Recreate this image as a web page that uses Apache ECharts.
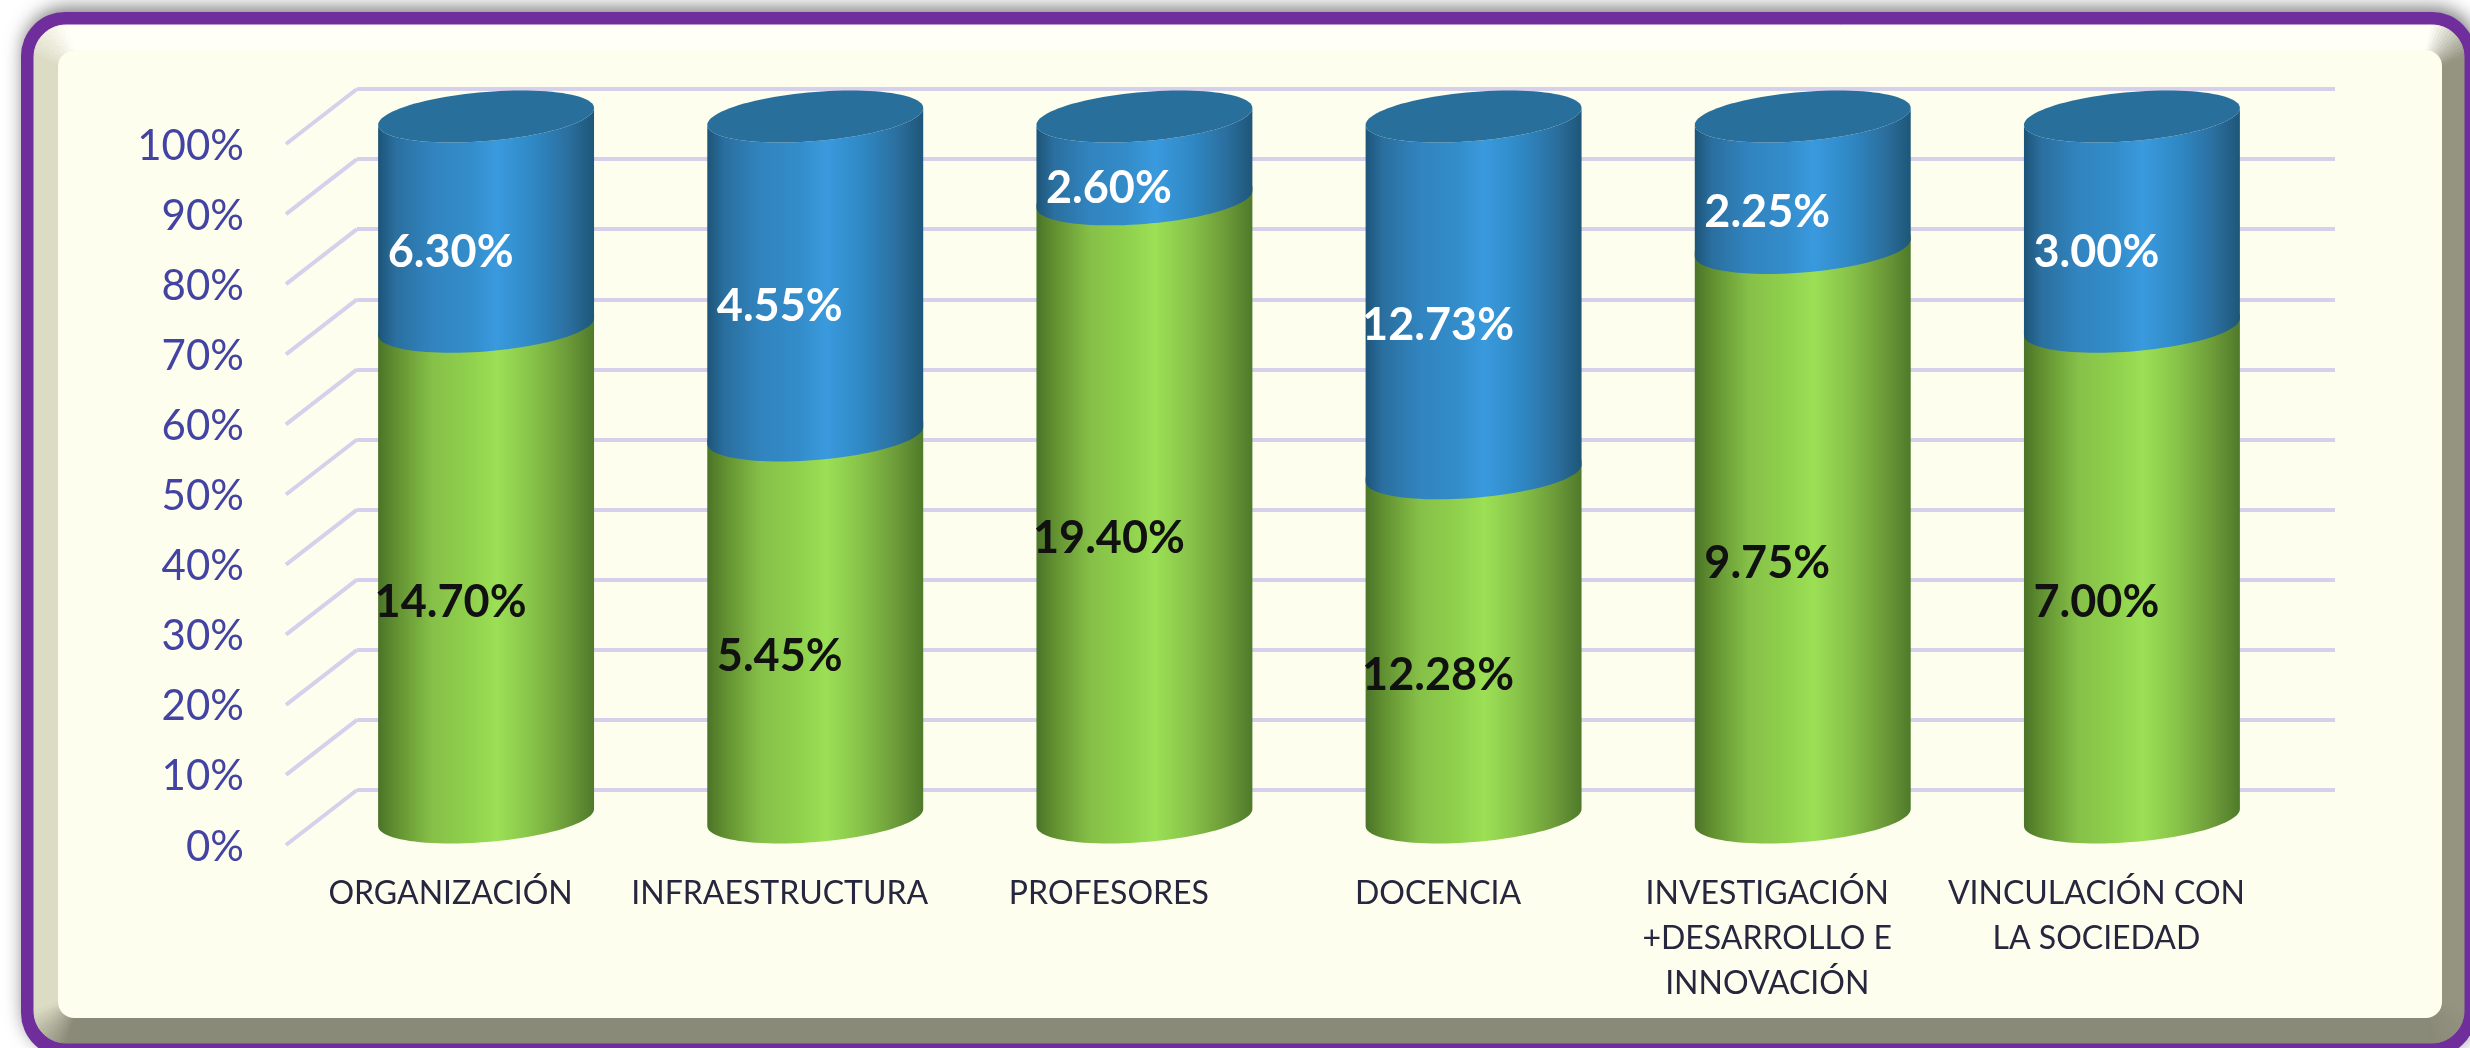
<!DOCTYPE html>
<html><head><meta charset="utf-8">
<style>html,body{margin:0;padding:0;background:#fff}#c{width:2470px;height:1048px}</style>
<script src="https://cdn.jsdelivr.net/npm/echarts@6/dist/echarts.min.js"></script>
</head><body><div id="c"></div>
<script>
const categories = ['ORGANIZACIÓN','INFRAESTRUCTURA','PROFESORES','DOCENCIA','INVESTIGACIÓN\n+DESARROLLO E\nINNOVACIÓN','VINCULACIÓN CON\nLA SOCIEDAD'];
const greenValues = [14.70,5.45,19.40,12.28,9.75,7.00];
const blueValues = [6.30,4.55,2.60,12.73,2.25,3.00];
const yTicks = [0,10,20,30,40,50,60,70,80,90,100];

const FONT='Lato';
const DX=71, DY=-55;
const GREEN=[[0,'#4b7428'],[0.08,'#618f30'],[0.25,'#86c048'],[0.42,'#8fd04c'],[0.55,'#9ce056'],[0.72,'#86c148'],[0.88,'#6c9a38'],[1,'#4f7a2a']];
const BLUE=[[0,'#1d5478'],[0.08,'#2a6f9f'],[0.25,'#3184bf'],[0.42,'#338cc9'],[0.55,'#3a9ade'],[0.72,'#2f88c4'],[0.88,'#2b6f9f'],[1,'#1e5678']];
const grad=s=>({type:'linear',x:0,y:0,x2:1,y2:0,colorStops:s.map(a=>({offset:a[0],color:a[1]}))});

const total=greenValues.map((g,i)=>g+blueValues[i]);
const greenData=greenValues.map((g,i)=>[i,0,g/total[i]*100,g]);
const blueData=blueValues.map((b,i)=>[i,greenValues[i]/total[i]*100,100,b]);

function cyl(stops,textColor,isTop){
  return function(params,api){
    const i=api.value(0),lo=api.value(1),hi=api.value(2),raw=api.value(3);
    const a=api.coord([i,lo]),b=api.coord([i,hi]);
    const rx=api.size([1,0])[0]*0.328;
    const cx=a[0]+DX/2,yL=a[1]+DY/2,yH=b[1]+DY/2;
    const pt=(t,cy)=>[cx+rx*Math.cos(t),cy-8.5*Math.cos(t)+24.6*Math.sin(t)];
    const pts=[];
    const N=48;
    for(let k=0;k<=N;k++)pts.push(pt(Math.PI*k/N,yL));
    const yU=isTop?yH:yH-6;
    for(let k=N;k>=0;k--)pts.push(pt(Math.PI*k/N,yU));
    const children=[{type:'polygon',shape:{points:pts},style:{fill:grad(stops)}}];
    if(isTop){
      const el=[];
      for(let k=0;k<96;k++)el.push(pt(2*Math.PI*k/96,yH));
      children.push({type:'polygon',shape:{points:el},style:{fill:'#296f9c'}});
    }
    const m=api.coord([i,(lo+hi)/2]);
    children.push({type:'text',x:m[0],y:m[1]+3,z2:20,style:{text:raw.toFixed(2)+'%',fill:textColor,fontFamily:FONT,fontWeight:700,fontSize:45,align:'center',verticalAlign:'middle'}});
    return {type:'group',children};
  };
}

// frame
const O={x0:34,y0:25,x1:2464,y1:1043,r:32};
const I={x0:58,y0:50,x1:2442,y1:1018,r:16};
const C={t:[255,255,248],l:[220,220,196],r:[148,148,128],b:[138,138,120]};
const mix=(a,b,f)=>'rgb('+a.map((v,i)=>Math.round(v+(b[i]-v)*f)).join(',')+')';
const frame=[];
frame.push({type:'rect',shape:{x:21,y:12,width:2455,height:1045,r:44},z:-20,style:{fill:'#702e9c',shadowBlur:18,shadowColor:'rgba(0,0,0,0.5)',shadowOffsetX:2,shadowOffsetY:-5}});
function side(pts,color){frame.push({type:'polygon',shape:{points:pts},z:-19,style:{fill:color,stroke:color,lineWidth:1}});}
side([[O.x0+O.r,O.y0],[O.x1-O.r,O.y0],[I.x1-I.r,I.y0],[I.x0+I.r,I.y0]],mix(C.t,C.t,0));
side([[O.x0+O.r,O.y1],[O.x1-O.r,O.y1],[I.x1-I.r,I.y1],[I.x0+I.r,I.y1]],mix(C.b,C.b,0));
side([[O.x0,O.y0+O.r],[O.x0,O.y1-O.r],[I.x0,I.y1-I.r],[I.x0,I.y0+I.r]],mix(C.l,C.l,0));
side([[O.x1,O.y0+O.r],[O.x1,O.y1-O.r],[I.x1,I.y1-I.r],[I.x1,I.y0+I.r]],mix(C.r,C.r,0));
function corner(ox,oy,ix,iy,a0,c0,c1){
  const n=14;
  for(let k=0;k<n;k++){
    const t0=a0+Math.PI/2*k/n,t1=a0+Math.PI/2*(k+1)/n;
    const p=(c,r,t)=>[c[0]+r*Math.cos(t),c[1]+r*Math.sin(t)];
    const col=mix(c0,c1,(k+.5)/n);
    side([p([ox,oy],O.r,t0),p([ox,oy],O.r,t1),p([ix,iy],I.r,t1),p([ix,iy],I.r,t0)],col);
  }
}
corner(O.x0+O.r,O.y0+O.r,I.x0+I.r,I.y0+I.r,Math.PI,C.l,C.t);
corner(O.x1-O.r,O.y0+O.r,I.x1-I.r,I.y0+I.r,-Math.PI/2,C.t,C.r);
corner(O.x1-O.r,O.y1-O.r,I.x1-I.r,I.y1-I.r,0,C.r,C.b);
corner(O.x0+O.r,O.y1-O.r,I.x0+I.r,I.y1-I.r,Math.PI/2,C.b,C.l);
frame.push({type:'rect',shape:{x:I.x0,y:I.y0,width:I.x1-I.x0,height:I.y1-I.y0,r:I.r},z:-18,style:{fill:'#fefeee'}});

const chart=echarts.init(document.getElementById('c'),null,{renderer:'canvas'});
chart.setOption({
  animation:false,
  backgroundColor:'#ffffff',
  graphic:{elements:frame},
  grid:[
    {left:357,top:89,width:1978,height:701},
    {left:286,top:144,width:1975,height:701}
  ],
  xAxis:[
    {gridIndex:0,type:'category',data:categories,axisLine:{show:false},axisTick:{show:false},axisLabel:{show:false}},
    {gridIndex:1,type:'category',data:categories,axisLine:{show:false},axisTick:{show:false},
      axisLabel:{interval:0,margin:26,fontFamily:FONT,fontSize:32,lineHeight:45,color:'#26263e',align:'center',verticalAlign:'top'}}
  ],
  yAxis:[
    {gridIndex:0,type:'value',min:0,max:100,interval:10,axisLine:{show:false},axisTick:{show:false},axisLabel:{show:false},
      splitLine:{show:true,lineStyle:{color:'#d6d0ec',width:4}}},
    {gridIndex:1,type:'value',min:0,max:100,interval:10,axisLine:{show:false},axisTick:{show:false},splitLine:{show:false},
      axisLabel:{margin:42,fontFamily:FONT,fontSize:42,color:'#4343a4',formatter:v=>'{a|'+v+'%}',
        rich:{a:{fontFamily:FONT,fontSize:42,color:'#4343a4',padding:[4,0,0,0]}}}}
  ],
  series:[
    {type:'custom',name:'ticks',xAxisIndex:1,yAxisIndex:1,z:1,silent:true,clip:false,
      data:yTicks.map(v=>[0,v]),encode:{x:0,y:1},
      renderItem:(params,api)=>{
        const y=api.coord([0,api.value(1)])[1],x=params.coordSys.x;
        return {type:'line',shape:{x1:x,y1:y,x2:x+DX,y2:y+DY},style:{stroke:'#d6d0ec',lineWidth:4,fill:null}};
      }},
    {type:'custom',name:'Verde',xAxisIndex:1,yAxisIndex:1,z:3,silent:true,clip:false,
      data:greenData,encode:{x:0,y:[1,2]},renderItem:cyl(GREEN,'#111111',false)},
    {type:'custom',name:'Azul',xAxisIndex:1,yAxisIndex:1,z:4,silent:true,clip:false,
      data:blueData,encode:{x:0,y:[1,2]},renderItem:cyl(BLUE,'#ffffff',true)}
  ]
});
</script></body></html>
